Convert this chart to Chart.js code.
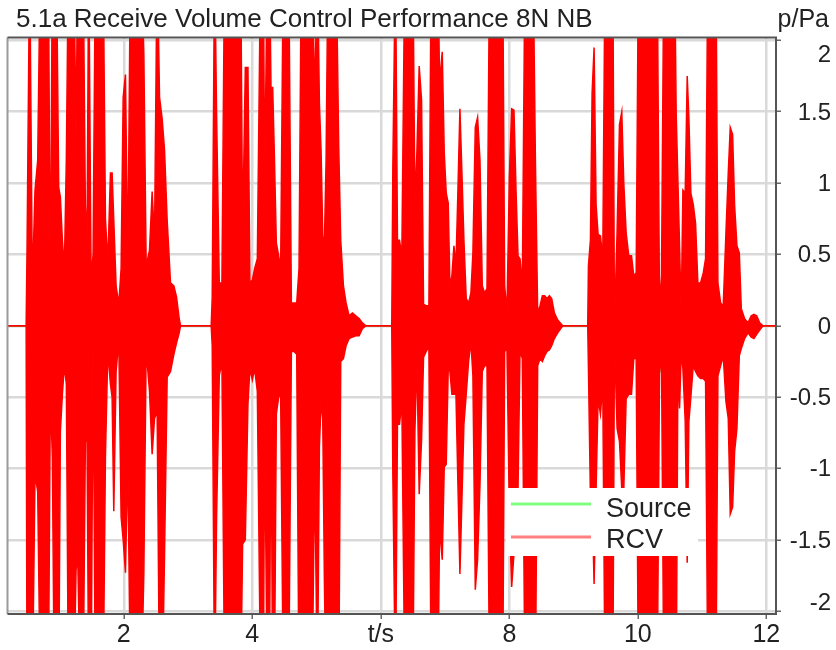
<!DOCTYPE html>
<html lang="en">
<head>
  <meta charset="UTF-8" />
  <title>5.1a Receive Volume Control Performance 8N NB</title>
  <script src="https://cdn.jsdelivr.net/npm/chart.js"></script>
  <style>
    html, body { margin: 0; padding: 0; background: #fff; }
  </style>
</head>
<body>
  <canvas id="rcvChart" width="836" height="650"></canvas>

  <script>
    // texts
    const chartTitle = '5.1a Receive Volume Control Performance 8N NB';
    const yUnit = 'p/Pa';

    // axes
    const xMin = 0.19, xMax = 12.15;
    const yMin = -2.02, yMax = 2.02;
    const xTickValues = [2, 4, 6, 8, 10, 12];
    const xTickLabels = ['2', '4', 't/s', '8', '10', '12'];
    const yTickValues = [2, 1.5, 1, 0.5, 0, -0.5, -1, -1.5, -2];
    const yTickLabels = ['2', '1.5', '1', '0.5', '0', '-0.5', '-1', '-1.5', '-2'];

    // RCV, read off the picture as max / min per time slice (s, Pa)
    // values of +-2.6 are clipped by the plot
    const burst1Time = [0, 0.48, 0.494, 0.535, 0.577, 0.618, 0.660, 0.701, 0.743, 0.784, 0.826, 0.857, 0.888, 0.919, 0.951, 0.987, 1.013, 1.044, 1.075, 1.106, 1.138, 1.179, 1.221, 1.257, 1.283, 1.325, 1.366, 1.402, 1.428, 1.454, 1.491, 1.522, 1.558, 1.595, 1.636, 1.678, 1.714, 1.751, 1.792, 1.818, 1.844, 1.880, 1.922, 1.958, 1.990, 2.026, 2.062, 2.104, 2.145, 2.187, 2.228, 2.270, 2.312, 2.348, 2.400, 2.441, 2.478, 2.519, 2.556, 2.597, 2.634, 2.675, 2.727, 2.779, 2.821, 2.862, 2.883];
    const burst1Max = [0, 0, 0.53, 2.6, 0.28, 0.95, 1.16, 2.6, 2.6, 2.6, 2.6, 0.12, 2.6, 2.6, 2.6, 0.97, 0.9, 0.6, 0.4, 1.18, 2.6, 2.6, 2.6, 1.32, 2.6, 2.6, 2.6, 0.84, 0.6, 2.6, 0.33, 0.5, 2.6, 2.6, 2.6, 2.6, 0.75, 0.44, 1.07, 1.07, 0.74, 0.28, 0.15, 0.4, 1.6, 1.76, 0.4, 2.6, 2.6, 2.6, 2.6, 2.6, 1.9, 0.42, 0.53, 0.94, 0.6, 2.6, 1.6, 1.45, 1.23, 0.74, 0.3, 0.28, 0.2, 0.05, 0];
    const burst1Min = [0, 0, -2.6, -2.6, -2.6, -1.04, -1.16, -2.6, -2.6, -2.6, -2.6, -0.48, -0.92, -2.6, -2.6, -2.6, -0.74, -0.48, -0.28, -0.41, -2.6, -2.6, -2.6, -1.71, -1.62, -2.6, -2.6, -0.81, -0.81, -2.6, -2.6, -0.17, -2.6, -2.6, -2.6, -2.6, -0.92, -0.18, -0.41, -0.5, -1.3, -0.32, -0.1, -1.34, -1.5, -1.73, -0.92, -2.6, -2.6, -2.6, -2.6, -2.6, -1.73, -0.17, -0.46, -0.9, -0.65, -0.6, -2.6, -2.6, -1.6, -0.36, -0.32, -0.2, -0.12, -0.05, 0];

    const burst2Time = [3.36, 3.376, 3.413, 3.444, 3.486, 3.527, 3.569, 3.610, 3.652, 3.693, 3.735, 3.776, 3.818, 3.849, 3.891, 3.932, 3.963, 4.000, 4.036, 4.078, 4.130, 4.171, 4.192, 4.234, 4.265, 4.291, 4.317, 4.343, 4.374, 4.410, 4.441, 4.483, 4.524, 4.566, 4.608, 4.649, 4.691, 4.727, 4.763, 4.805, 4.846, 4.888, 4.930, 4.971, 5.013, 5.044, 5.070, 5.096, 5.122, 5.148, 5.179, 5.221, 5.262, 5.304, 5.345, 5.376, 5.418, 5.459, 5.506, 5.558, 5.610, 5.662, 5.714, 5.766];
    const burst2Max = [0, 0.2, 2.6, 1.48, 0.3, 0.3, 2.6, 2.6, 2.6, 2.6, 2.6, 2.6, 2.6, 0.63, 1.81, 1.81, 0.3, 0.32, 0.4, 0.47, 2.6, 2.6, 0.99, 2.6, 2.6, 1.67, 1.67, 1.2, 0.58, 0.49, 0.4, 2.6, 2.6, 2.6, 0.16, 0.16, 0.16, 0.4, 2.6, 2.6, 2.6, 2.6, 2.6, 1.58, 2.6, 1.56, 1.23, 0.63, 0.58, 1.16, 2.6, 2.6, 2.6, 2.6, 1.25, 0.6, 0.28, 0.16, 0.07, 0.09, 0.07, 0.05, 0.02, 0];
    const burst2Min = [0, -0.14, -2.6, -1.34, -0.35, -0.25, -2.6, -2.6, -2.6, -2.6, -2.6, -2.6, -2.6, -1.53, -1.5, -0.55, -0.3, -0.38, -0.3, -0.46, -2.6, -2.6, -0.72, -2.6, -2.6, -0.5, -2.6, -2.6, -0.62, -0.5, -0.48, -2.6, -2.6, -2.6, -0.18, -0.18, -0.2, -2.6, -2.6, -2.6, -2.6, -2.6, -2.6, -0.98, -2.6, -0.85, -0.53, -0.65, -1.8, -2.6, -2.6, -2.6, -2.6, -2.6, -2.6, -0.25, -0.23, -0.14, -0.09, -0.08, -0.07, -0.07, -0.02, 0];

    const burst3Time = [6.17, 6.187, 6.228, 6.259, 6.291, 6.327, 6.374, 6.415, 6.457, 6.498, 6.530, 6.561, 6.597, 6.634, 6.665, 6.706, 6.748, 6.784, 6.820, 6.857, 6.888, 6.914, 6.956, 6.987, 7.018, 7.049, 7.075, 7.106, 7.138, 7.169, 7.200, 7.231, 7.262, 7.293, 7.329, 7.366, 7.402, 7.433, 7.470, 7.506, 7.543, 7.579, 7.615, 7.652, 7.693, 7.735, 7.776, 7.818, 7.859, 7.896, 7.927, 7.963, 8.000, 8.036, 8.072, 8.104, 8.135, 8.166, 8.202, 8.244, 8.285, 8.327, 8.369, 8.405, 8.441, 8.478, 8.514, 8.550, 8.587, 8.623, 8.659, 8.701, 8.753, 8.831];
    const burst3Max = [0, 1.11, 2.6, 0.6, 0.6, 0.49, 2.6, 2.6, 2.6, 2.6, 0.86, 1.21, 1.82, 1.58, 0.15, 0.14, 0.14, 2.6, 2.6, 2.6, 2.6, 1.7, 1.92, 1.21, 0.93, 0.86, 0.28, 0.35, 0.56, 0.42, 0.95, 1.52, 1.07, 0.6, 0.19, 0.16, 0.23, 0.51, 1.39, 1.46, 1.16, 0.28, 0.23, 0.26, 2.6, 2.6, 2.6, 2.6, 2.6, 2.6, 0.28, 0.09, 1.04, 1.52, 1.51, 0.95, 0.49, 0.47, 0.28, 2.6, 2.6, 2.6, 2.6, 1.18, 0.09, 0.14, 0.21, 0.21, 0.19, 0.21, 0.19, 0.09, 0.04, 0];
    const burst3Min = [0, -1.04, -2.6, -0.69, -0.69, -0.53, -2.6, -2.6, -2.6, -2.6, -0.75, -0.22, -1.18, -0.8, -0.22, -0.18, -0.15, -2.6, -2.6, -2.6, -2.6, -1.41, -1.64, -0.99, -0.97, -0.3, -0.32, -0.48, -0.48, -0.48, -1.11, -1.74, -1.22, -0.69, -0.48, -0.25, -0.11, -0.35, -1.85, -1.64, -1.11, -0.32, -0.28, -0.28, -2.6, -2.6, -2.6, -2.6, -2.6, -2.6, -0.18, -0.16, -1.3, -1.83, -1.6, -1.2, -1.15, -0.18, -0.23, -2.6, -2.6, -2.6, -2.6, -2.6, -0.28, -0.23, -0.25, -0.21, -0.18, -0.17, -0.14, -0.09, -0.05, 0];

    const burst4Time = [9.22, 9.231, 9.262, 9.288, 9.319, 9.350, 9.381, 9.418, 9.454, 9.490, 9.532, 9.574, 9.610, 9.636, 9.677, 9.714, 9.750, 9.781, 9.818, 9.859, 9.901, 9.937, 9.974, 10.010, 10.051, 10.093, 10.135, 10.176, 10.218, 10.259, 10.301, 10.337, 10.368, 10.405, 10.446, 10.488, 10.529, 10.571, 10.597, 10.623, 10.649, 10.675, 10.701, 10.737, 10.768, 10.794, 10.825, 10.862, 10.898, 10.934, 10.976, 11.018, 11.054, 11.090, 11.132, 11.173, 11.215, 11.246, 11.288, 11.329, 11.371, 11.407, 11.438, 11.475, 11.506, 11.542, 11.579, 11.610, 11.662, 11.714, 11.765, 11.807, 11.849, 11.896, 11.947, 12.5];
    const burst4Max = [0, 0.42, 0.6, 1.63, 1.95, 0.85, 0.64, 0.63, 0.47, 2.6, 2.6, 2.6, 2.6, 0.0, 0.66, 1.41, 1.5, 1.0, 0.65, 0.49, 0.49, 0.35, 0.37, 2.6, 2.6, 2.6, 2.6, 2.6, 2.6, 2.6, 2.6, 0.14, 0.35, 2.6, 2.6, 2.6, 2.6, 2.6, 1.48, 1.02, 0.56, 0.09, 0.95, 0.93, 1.75, 1.46, 0.93, 0.85, 0.72, 0.3, 0.3, 0.37, 0.47, 2.6, 2.6, 2.6, 2.6, 0.3, 0.16, 0.14, 0.65, 1.07, 1.39, 1.34, 0.84, 0.56, 0.51, 0.12, 0.05, 0.02, 0.07, 0.08, 0.07, 0.02, 0, 0];
    const burst4Min = [0, -0.3, -1.2, -1.2, -1.81, -1.15, -0.51, -0.62, -0.41, -2.6, -2.6, -2.6, -2.6, -0.09, -0.72, -0.81, -1.15, -1.15, -0.51, -0.48, -0.48, -0.23, -0.23, -2.6, -2.6, -2.6, -2.6, -2.6, -2.6, -2.6, -2.6, -0.33, -0.21, -2.6, -2.6, -2.6, -2.6, -2.6, -2.6, -0.3, -0.58, -0.18, -0.3, -0.67, -1.66, -0.67, -0.5, -0.28, -0.32, -0.35, -0.37, -0.37, -0.39, -2.6, -2.6, -2.6, -2.6, -0.35, -0.28, -0.21, -0.53, -0.65, -1.32, -1.27, -0.88, -0.72, -0.21, -0.16, -0.09, -0.05, -0.08, -0.09, -0.06, -0.03, 0, 0];

    // Source, mostly hidden under RCV; only a few specks show
    const sourceTime = [0, 6.72, 6.73, 6.74, 7.38, 7.39, 7.40, 7.41, 9.63, 9.64, 9.65, 10.33, 10.34, 10.35, 10.67, 10.68, 10.69, 12.5];
    const sourceP = [0, 0, -0.17, 0, 0, 0.2, -0.1, 0, 0, 0.05, 0, 0, -0.33, 0, 0, 0.09, 0, 0];

    const allTime = [].concat(burst1Time, burst2Time, burst3Time, burst4Time);
    const allMax = [].concat(burst1Max, burst2Max, burst3Max, burst4Max);
    const allMin = [].concat(burst1Min, burst2Min, burst3Min, burst4Min);

    const rcvMaxData = allTime.map((t, i) => ({ x: t, y: allMax[i] }));
    const rcvMinData = allTime.map((t, i) => ({ x: t, y: allMin[i] }));
    const sourceData = sourceTime.map((t, i) => ({ x: t, y: sourceP[i] }));

    const FONT = '"Liberation Sans", Arial, sans-serif';

    const frame = {
      id: 'frame',
      beforeDraw(chart) {
        const c = chart.ctx;
        c.save();
        c.fillStyle = '#fff';
        c.fillRect(0, 0, chart.width, chart.height);
        c.restore();
      },
      afterDraw(chart) {
        const c = chart.ctx, a = chart.chartArea;
        const xs = chart.scales.x, ys = chart.scales.y;
        c.save();

        // plot frame
        c.lineWidth = 2;
        c.strokeStyle = '#9a9a9a';
        c.beginPath(); c.moveTo(a.left, a.top); c.lineTo(a.left, a.bottom); c.stroke();
        c.strokeStyle = '#555';
        c.beginPath();
        c.moveTo(a.left, a.top); c.lineTo(a.right, a.top);
        c.lineTo(a.right, a.bottom); c.lineTo(a.left, a.bottom);
        c.stroke();

        // title and unit
        c.fillStyle = '#222';
        c.font = '26px ' + FONT;
        c.textAlign = 'left';
        c.fillText(chartTitle, 16, 27);
        c.font = '25px ' + FONT;
        c.textAlign = 'right';
        c.fillText(yUnit, 829, 27);

        // y labels, the end ones pulled inside
        c.font = '24px ' + FONT;
        yTickValues.forEach((v, i) => {
          const py = Math.min(Math.max(ys.getPixelForValue(v) + 8, 62), 610);
          c.fillText(yTickLabels[i], 831, py);
        });

        // x labels
        c.font = '25px ' + FONT;
        c.textAlign = 'center';
        xTickValues.forEach((v, i) => {
          c.fillText(xTickLabels[i], xs.getPixelForValue(v), 642);
        });

        // legend (one entry per named series)
        c.fillStyle = '#fff';
        c.fillRect(506, 488, 192, 68);
        c.font = '27px ' + FONT;
        c.textAlign = 'left';
        chart.data.datasets.filter(ds => ds.legendColor).forEach((ds, i) => {
          const ly = 504 + i * 33;
          c.strokeStyle = ds.legendColor;
          c.lineWidth = 3;
          c.beginPath(); c.moveTo(511, ly); c.lineTo(591, ly); c.stroke();
          c.fillStyle = '#222';
          c.fillText(ds.label, 606, 517 + i * 31);
        });

        c.restore();
      }
    };

    const gridStyle = {
      color: '#d9d9d9',
      lineWidth: 2.5,
      drawTicks: true,
      tickLength: 5,
      tickColor: '#666',
      tickWidth: 1.5
    };

    new Chart(document.getElementById('rcvChart'), {
      type: 'line',
      data: {
        datasets: [
          {
            label: 'Source',
            data: sourceData,
            borderColor: '#00e000',
            legendColor: '#80ff80',
            borderWidth: 1.5,
            pointRadius: 0,
            tension: 0,
            fill: false,
            clip: 0,
            order: 3
          },
          {
            label: 'RCV',
            data: rcvMaxData,
            borderColor: '#ff0000',
            backgroundColor: '#ff0000',
            legendColor: '#ff8080',
            borderWidth: 1.5,
            pointRadius: 0,
            tension: 0,
            fill: '+1',
            clip: 0,
            order: 1
          },
          {
            label: 'RCV min',
            data: rcvMinData,
            borderColor: '#ff0000',
            borderWidth: 1.5,
            pointRadius: 0,
            tension: 0,
            fill: false,
            clip: 0,
            order: 2
          }
        ]
      },
      options: {
        responsive: false,
        animation: false,
        events: [],
        layout: { padding: { top: 37.5, left: 7.5 } },
        plugins: {
          legend: { display: false },
          title: { display: false },
          tooltip: { enabled: false }
        },
        scales: {
          x: {
            type: 'linear',
            min: xMin,
            max: xMax,
            afterBuildTicks: s => { s.ticks = xTickValues.map(v => ({ value: v })); },
            afterFit: s => { s.height = 36; },
            ticks: { display: false },
            grid: gridStyle,
            border: { display: false }
          },
          y: {
            type: 'linear',
            position: 'right',
            min: yMin,
            max: yMax,
            afterBuildTicks: s => { s.ticks = yTickValues.map(v => ({ value: v })); },
            afterFit: s => { s.width = 60; },
            ticks: { display: false },
            grid: gridStyle,
            border: { display: false }
          }
        }
      },
      plugins: [frame]
    });
  </script>
</body>
</html>
